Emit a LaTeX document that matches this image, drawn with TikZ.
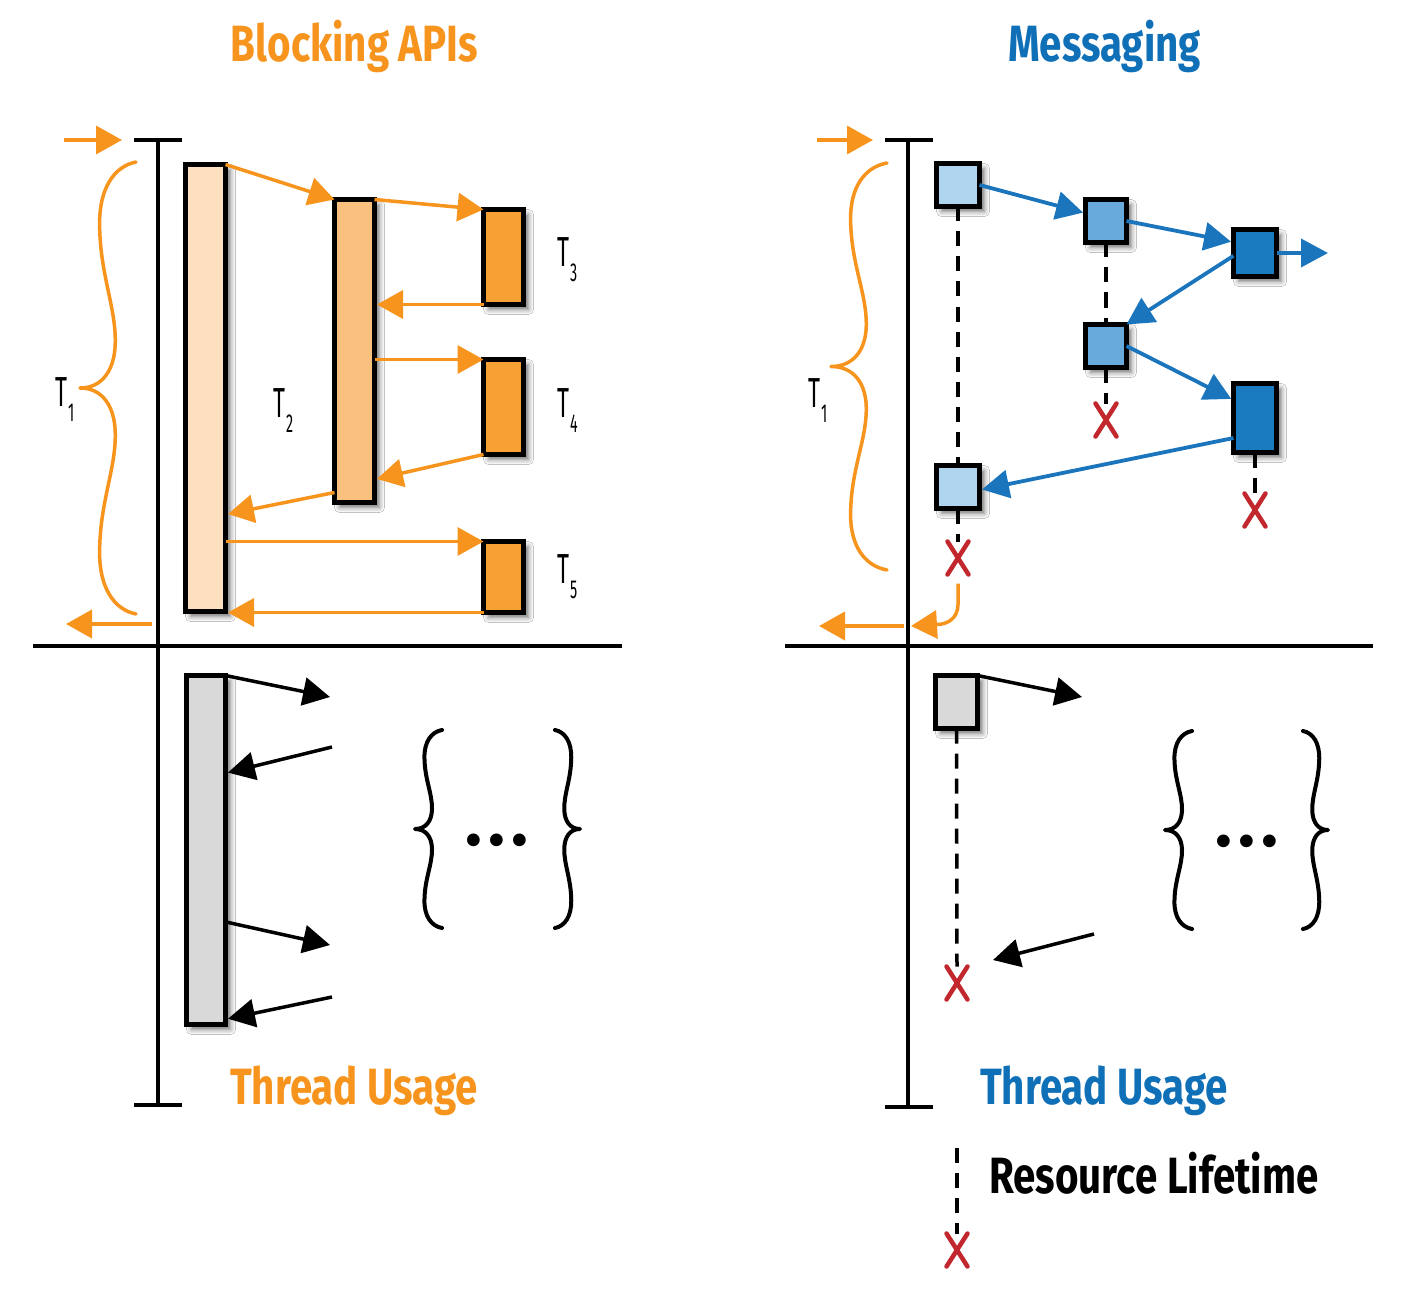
\documentclass[tikz,border=0pt]{standalone}
\usepackage{fontspec}
\setmainfont{Fira Sans}
\newfontfamily\condfont[FakeStretch=0.79]{Fira Sans}
\newfontfamily\labfont[FakeStretch=0.55]{Fira Sans}
\usetikzlibrary{arrows.meta,calc,shadows.blur}
\definecolor{oline}{HTML}{F7941D}
\definecolor{bline}{HTML}{1A75BC}
\definecolor{btext}{HTML}{0F6FB7}
\definecolor{peachA}{HTML}{FDE0C0}
\definecolor{peachB}{HTML}{FAC07E}
\definecolor{orangeC}{HTML}{F7A033}
\definecolor{blueA}{HTML}{AED4EE}
\definecolor{blueB}{HTML}{68AADB}
\definecolor{blueC}{HTML}{1B7BC0}
\definecolor{grayA}{HTML}{D9D9D9}
\definecolor{redx}{HTML}{C1272D}
\newcommand\tsub[1]{\kern1pt\raisebox{-15pt}{\fontsize{26}{26}\selectfont #1}}
\begin{document}
\begin{tikzpicture}[x=1pt,y=-1pt,
  tbox/.style={draw=black, line width=5pt, inner sep=0pt, outer sep=0pt,
    blur shadow={shadow xshift=5pt, shadow yshift=-5pt, shadow blur radius=5pt, shadow opacity=55}},
  oarrow/.style={oline, line width=3.5pt, -{Triangle[length=26pt,width=28pt]}},
  barrow/.style={bline, line width=3.8pt, -{Triangle[length=27pt,width=28pt]}},
  karrow/.style={black, line width=3.5pt, -{Triangle[length=27pt,width=28pt]}},
  axisline/.style={black, line width=4.5pt},
  dashline/.style={black, line width=3.5pt, dash pattern=on 15pt off 10pt},
  xmark/.style={minimum width=21pt, minimum height=33pt, inner sep=0pt, outer sep=0pt},
  xstroke/.style={redx, line width=4.5pt, line cap=round},
  title/.style={font=\condfont\bfseries\fontsize{51}{51}\selectfont, inner sep=0pt, anchor=base},
  tlab/.style={font=\labfont\fontsize{42}{42}\selectfont, inner sep=0pt, anchor=base west},
  obrace/.style={draw=oline, line width=3.5pt, line cap=round, line join=round},
  kbrace/.style={draw=black, line width=4pt, line cap=round, line join=round},
  ellip/.style={font=\bfseries\fontsize{70}{70}\selectfont, inner sep=0pt, anchor=base},
  bracepic/.pic={\path[pic actions] (0,0) .. controls (-0.4,0.01) and (-0.66,0.06) .. (-0.65,0.14)
      .. controls (-0.64,0.25) and (-0.36,0.32) .. (-0.37,0.40)
      .. controls (-0.38,0.46) and (-0.6,0.5) .. (-1,0.5)
      .. controls (-0.6,0.5) and (-0.38,0.54) .. (-0.37,0.60)
      .. controls (-0.36,0.68) and (-0.64,0.75) .. (-0.65,0.86)
      .. controls (-0.66,0.94) and (-0.4,0.99) .. (0,1);}
]
\useasboundingbox (0,0) rectangle (1409,1292);
\fill[white] (0,0) rectangle (1409,1292);

% ---------- titles ----------
\node[title, text=oline] (ttlL) at (354.5,62) {Blocking APIs};
\node[title, text=btext] (ttlR) at (1104.5,62) {Messaging};
\node[title, text=oline] (tuL) at (354,1104) {Thread Usage};
\node[title, text=btext] (tuR) at (1104,1104) {Thread Usage};
\node[title, text=black] (resl) at (1154,1193) {Resource Lifetime};

% ---------- axes ----------
\coordinate (LaxT) at (158,140); \coordinate (LaxB) at (158,1105);
\coordinate (RaxT) at (908,140); \coordinate (RaxB) at (908,1107);
\coordinate (LhA) at (33,646); \coordinate (LhB) at (622,646);
\coordinate (RhA) at (785,646); \coordinate (RhB) at (1373,646);
\draw[axisline] (LaxT) -- (LaxB);
\draw[axisline] ([xshift=-24pt]LaxT) -- ([xshift=24pt]LaxT);
\draw[axisline] ([xshift=-24pt]LaxB) -- ([xshift=24pt]LaxB);
\draw[axisline] (RaxT) -- (RaxB);
\draw[axisline] ([xshift=-23pt]RaxT) -- ([xshift=25pt]RaxT);
\draw[axisline] ([xshift=-23pt]RaxB) -- ([xshift=25pt]RaxB);
\draw[axisline] (LhA) -- (LhB);
\draw[axisline] (RhA) -- (RhB);

% ---------- left: blocking ----------
\coordinate (LinA) at (64,140); \coordinate (LinB) at (122,140);
\coordinate (LoutA) at (152,624); \coordinate (LoutB) at (66,624);
\draw[oarrow] (LinA) -- (LinB);
\draw[oarrow, line width=4pt] (LoutA) -- (LoutB);
\pic[obrace, xscale=56, yscale=452] at (136,162) {bracepic};
\node[tlab] (lT1) at (55,406) {T\tsub{1}};
\node[tlab] (lT2) at (273,417) {T\tsub{2}};
\node[tlab] (lT3) at (557,267) {T\tsub{3}};
\node[tlab] (lT4) at (557,417) {T\tsub{4}};
\node[tlab] (lT5) at (557,583) {T\tsub{5}};

\node[tbox, fill=peachA, minimum width=40pt, minimum height=447pt] (t1) at (205.5,388) {};
\node[tbox, fill=peachB, minimum width=40pt, minimum height=303pt] (t2) at (354.5,351) {};
\node[tbox, fill=orangeC, minimum width=40pt, minimum height=95pt] (t3) at (503.5,257) {};
\node[tbox, fill=orangeC, minimum width=40pt, minimum height=95pt] (t4) at (503.5,407) {};
\node[tbox, fill=orangeC, minimum width=40pt, minimum height=71pt] (t5) at (503.5,577) {};

\draw[oarrow] (t1.north east) -- (t2.north west);
\draw[oarrow] (t2.north east) -- (t3.north west);
\draw[oarrow, shorten >=2.5pt] (t3.south west) -- (t3.south west -| t2.east);
\draw[oarrow] (t4.north west -| t2.east) -- (t4.north west);
\draw[oarrow, shorten >=2.5pt] (t4.south west) -- ($(t2.north east)!0.924!(t2.south east)$);
\draw[oarrow, shorten >=2.5pt] ($(t2.north west)!0.967!(t2.south west)$) -- ($(t1.north east)!0.783!(t1.south east)$);
\draw[oarrow] (t5.north west -| t1.east) -- (t5.north west);
\draw[oarrow, shorten >=2.5pt] (t5.south west) -- (t5.south west -| t1.east);

% ---------- left bottom: thread usage ----------
\node[tbox, fill=grayA, minimum width=39pt, minimum height=349pt] (g1) at (206,850) {};
\coordinate (k1) at (330,697); \coordinate (k2) at (332,747);
\coordinate (k3) at (330,945); \coordinate (k4) at (332,997);
\draw[karrow] (g1.north east) -- (k1);
\draw[karrow, shorten >=2.5pt] (k2) -- ($(g1.north east)!0.28!(g1.south east)$);
\draw[karrow] ($(g1.north east)!0.706!(g1.south east)$) -- (k3);
\draw[karrow, shorten >=2.5pt] (k4) -- ($(g1.north east)!0.985!(g1.south east)$);
\pic[kbrace, xscale=27, yscale=198] at (442,730) {bracepic};
\pic[kbrace, xscale=-25, yscale=198] at (555,730) {bracepic};
\node[ellip] (ellL) at (497,845) {.\kern6pt.\kern6pt.};

% ---------- right: messaging ----------
\coordinate (RinA) at (817,140); \coordinate (RinB) at (873,140);
\coordinate (RoutA) at (904,626); \coordinate (RoutB) at (819,626);
\coordinate (rcur) at (911,626);
\draw[oarrow] (RinA) -- (RinB);
\draw[oarrow, line width=4pt] (RoutA) -- (RoutB);
\pic[obrace, xscale=56, yscale=407] at (887,163) {bracepic};
\node[tlab] (rT1) at (808,407) {T\tsub{1}};

\node[tbox, fill=blueA, minimum width=43pt, minimum height=43pt] (mA) at (958,185) {};
\node[tbox, fill=blueB, minimum width=41pt, minimum height=43pt] (mB) at (1106,221) {};
\node[tbox, fill=blueC, minimum width=43pt, minimum height=47pt] (mC) at (1255,253) {};
\node[tbox, fill=blueB, minimum width=41pt, minimum height=43pt] (mD) at (1106,346) {};
\node[tbox, fill=blueC, minimum width=43pt, minimum height=69pt] (mE) at (1255,418) {};
\node[tbox, fill=blueA, minimum width=43pt, minimum height=43pt] (mF) at (958,487) {};
\node[tbox, fill=grayA, minimum width=42pt, minimum height=53pt] (mG) at (956.5,702) {};

\node[xmark] (x1) at (958,558) {};
\node[xmark] (x2) at (1106,420) {};
\node[xmark] (x3) at (1255,510) {};
\node[xmark] (x4) at (957,983) {};
\node[xmark] (x5) at (957,1250) {};
\coordinate (leg) at (957,1148);

\draw[dashline] (mA.south) -- (mF.north);
\draw[dashline] (mF.south) -- (x1.north);
\draw[dashline] (mB.south) -- (mD.north);
\draw[dashline] (mD.south) -- (x2.north);
\draw[dashline] (mE.south) -- (x3.north);
\draw[dashline] (mG.south) -- (x4.north);
\draw[dashline] (leg) -- (x5.north);

\foreach \xm in {x1,x2,x3,x4,x5}{
  \draw[xstroke] (\xm.north west) -- (\xm.south east);
  \draw[xstroke] (\xm.north east) -- (\xm.south west);
}

\draw[barrow, shorten >=2.5pt] (mA.east) -- ($(mB.north west)!0.32!(mB.south west)$);
\draw[barrow, shorten >=2.5pt] (mB.east) -- ($(mC.north west)!0.27!(mC.south west)$);
\coordinate (cOut) at (1328,253);
\draw[barrow] (mC.east) -- (cOut);
\draw[barrow] ($(mC.north west)!0.56!(mC.south west)$) -- (mD.north east);
\draw[barrow, shorten >=2.5pt] (mD.east) -- ($(mE.north west)!0.24!(mE.south west)$);
\draw[barrow, shorten >=2.5pt] ($(mE.north west)!0.79!(mE.south west)$) -- ($(mF.north east)!0.57!(mF.south east)$);

\draw[oarrow] ([yshift=-9pt]x1.south) -- ++(0,21) .. controls +(0,14) and +(10,0) .. ++(-21,20) -- (rcur);

% ---------- right bottom ----------
\coordinate (k5) at (1082,697);
\coordinate (k6) at (1094,934); \coordinate (k7) at (993,960);
\draw[karrow] (mG.north east) -- (k5);
\draw[karrow] (k6) -- (k7);
\pic[kbrace, xscale=27, yscale=198] at (1192,731) {bracepic};
\pic[kbrace, xscale=-25, yscale=198] at (1303,731) {bracepic};
\node[ellip] (ellR) at (1247,846) {.\kern6pt.\kern6pt.};
\end{tikzpicture}
\end{document}
